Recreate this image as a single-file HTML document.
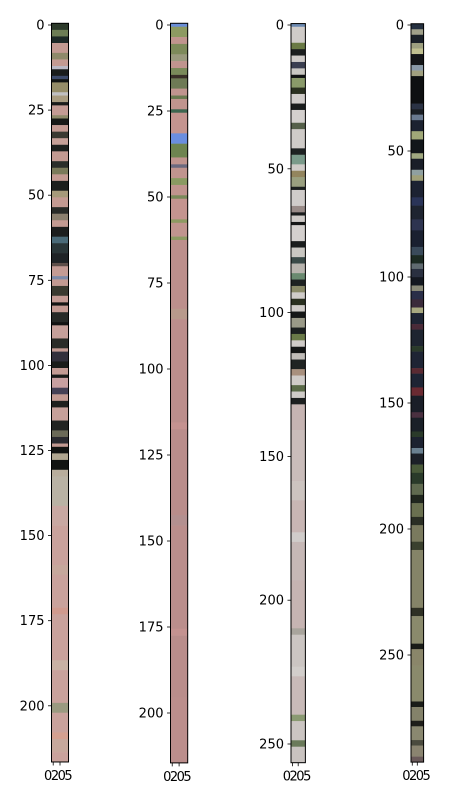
<!DOCTYPE html>
<html><head><meta charset="utf-8"><style>
html,body{margin:0;padding:0;background:#fff;}
svg{display:block;font-family:"DejaVu Sans","Liberation Sans",sans-serif;}
</style></head><body>
<svg id="fig" width="457" height="795" viewBox="0 0 457 795" xmlns="http://www.w3.org/2000/svg"></svg>
<script>
// Row-run data per panel: [rowCount, color]
const runs1 = [[2,"#2c3a2a"],[2,"#6d7d55"],[2,"#1e2a28"],[3,"#c39a92"],[2,"#8f8a6a"],[2,"#c39a92"],[1,"#b9b8c4"],[2,"#1a1d1c"],[1,"#3c4a6a"],[1,"#121514"],[3,"#958d68"],[1,"#c0c0c2"],[2,"#a99c80"],[1,"#1a1c1a"],[3,"#c49b94"],[1,"#8f8a6a"],[2,"#171917"],[2,"#c39a92"],[2,"#3a3a32"],[2,"#c6a098"],[2,"#1e211f"],[3,"#c39a92"],[2,"#2a2e2a"],[2,"#7a7a5a"],[2,"#c39a92"],[3,"#1c1f1d"],[2,"#a69a7a"],[3,"#c39a92"],[2,"#282b28"],[2,"#8a7f6e"],[2,"#c39a92"],[3,"#1c1e1e"],[2,"#4a6a78"],[3,"#2a3638"],[3,"#1f2326"],[1,"#5e4f4a"],[3,"#c49b94"],[1,"#7d8aa8"],[2,"#c39a92"],[3,"#3a3a30"],[2,"#c49b94"],[1,"#141614"],[2,"#c39a92"],[3,"#272a27"],[1,"#121312"],[4,"#c6a09a"],[3,"#2a2c28"],[1,"#c39a92"],[3,"#32303c"],[2,"#1a1c1a"],[2,"#c49b94"],[1,"#191b19"],[3,"#c89fa0"],[2,"#454055"],[2,"#c39a92"],[2,"#1e201e"],[4,"#c6a09a"],[3,"#222422"],[2,"#6b6a58"],[2,"#2a2a30"],[1,"#c39a92"],[2,"#121412"],[2,"#b0a690"],[3,"#121412"],[2,"#b8ad9c"],[9,"#b9b2a4"],[6,"#c8a8a2"],[12,"#c9a29c"],[3,"#c6a89c"],[10,"#c9a29c"],[2,"#d09a8e"],[14,"#c9a29c"],[3,"#c8b2a4"],[10,"#c9a29c"],[3,"#9a9a80"],[6,"#c9a29c"],[2,"#d4a090"],[4,"#c6a89c"],[3,"#c9a29c"]];
const runs2 = [[1,"#6a8ed8"],[3,"#8d9a62"],[2,"#c0948e"],[3,"#7d8a5a"],[2,"#9a9a7e"],[2,"#c0948e"],[2,"#7a8a5a"],[1,"#3a2f28"],[3,"#6e7a55"],[2,"#c0948e"],[1,"#6a7a50"],[3,"#c0948e"],[1,"#3e6650"],[6,"#c4948f"],[3,"#6a8ee0"],[4,"#6e8450"],[2,"#c0948e"],[1,"#6a6a80"],[3,"#c0948e"],[2,"#8a9a62"],[3,"#c0948e"],[1,"#7a8a5a"],[6,"#c4948f"],[1,"#8d9a62"],[4,"#c0948e"],[1,"#8d9a62"],[20,"#bc8f8c"],[3,"#b89a8c"],[30,"#bb8e8c"],[2,"#c49290"],[25,"#b98d8b"],[3,"#b39090"],[30,"#ba8e8c"],[2,"#c49290"],[18,"#b98d8b"],[19,"#bb8e8c"]];
const runs3 = [[1,"#6a88b0"],[5,"#cfcbc8"],[2,"#6a7a45"],[2,"#1c1f1f"],[2,"#cfcbc8"],[2,"#3a3e50"],[2,"#c9c7c2"],[1,"#101212"],[3,"#8a9a6a"],[2,"#2a3020"],[3,"#d0ccca"],[2,"#1a1d1d"],[4,"#d4d0ce"],[2,"#55604a"],[6,"#cfcbc8"],[2,"#1e2222"],[3,"#7a9a8a"],[2,"#cfcbc8"],[2,"#93855e"],[3,"#9aa080"],[1,"#1c2020"],[5,"#d0ccca"],[2,"#998b88"],[1,"#1a1d1d"],[2,"#cfcbc8"],[1,"#151717"],[5,"#d4d0ce"],[2,"#1a1d1d"],[3,"#c9c7c2"],[2,"#3a4a48"],[3,"#b8b4ae"],[2,"#6a8a70"],[2,"#1e2222"],[2,"#8a8a68"],[2,"#d0ccca"],[2,"#2a3020"],[2,"#cfcbc8"],[2,"#151717"],[3,"#9a9a88"],[2,"#1c2020"],[2,"#6a7a48"],[2,"#cfcbc8"],[2,"#141616"],[2,"#c0bcb8"],[3,"#1f2322"],[2,"#a8907e"],[3,"#cfcbc8"],[2,"#5a6a48"],[2,"#cfcbc8"],[2,"#1c1f1f"],[8,"#c6b4b2"],[16,"#c9bcba"],[6,"#ccc4c0"],[10,"#c8b6b4"],[3,"#d0ccca"],[12,"#c6b8b6"],[15,"#c6b4b2"],[2,"#a8a49c"],[10,"#cbc5c2"],[3,"#d2cecb"],[12,"#c8bab8"],[2,"#8a9a72"],[6,"#cbc5c2"],[2,"#6a7a5a"],[5,"#c9c3c0"]];
const runs4 = [[2,"#253040"],[2,"#a0a08a"],[3,"#1a2028"],[2,"#9ea080"],[2,"#c0c090"],[4,"#141618"],[2,"#8a9aa8"],[2,"#a0a080"],[10,"#0e1012"],[2,"#2a3244"],[2,"#1a1e24"],[2,"#6a7a90"],[4,"#1c2230"],[3,"#a0a878"],[5,"#12161a"],[2,"#a0a880"],[4,"#1a1e28"],[2,"#90a0a0"],[2,"#a0a078"],[6,"#1c2232"],[3,"#2a3458"],[5,"#1e2430"],[4,"#2e3450"],[6,"#1a2030"],[3,"#3a4a5a"],[3,"#1c2a22"],[2,"#606a70"],[3,"#2a3040"],[3,"#141820"],[2,"#8a8a78"],[3,"#2a2e48"],[3,"#3a2a3a"],[2,"#a8a880"],[4,"#1e2434"],[2,"#4a2a38"],[6,"#1e2430"],[2,"#2a3a2a"],[6,"#1e2434"],[2,"#5a2a32"],[5,"#1e2434"],[3,"#6a2a32"],[6,"#1a1e28"],[2,"#4a3040"],[5,"#1a2028"],[2,"#2a3a2a"],[4,"#1c2230"],[2,"#6a8090"],[4,"#1c2028"],[3,"#4a5a3a"],[4,"#2a3a2a"],[4,"#606a50"],[3,"#20261e"],[5,"#6a7050"],[3,"#2a2e24"],[6,"#7a7a5e"],[3,"#3a402e"],[8,"#858468"],[13,"#858468"],[3,"#2e3024"],[10,"#8a8a6c"],[2,"#1a1c18"],[6,"#8a866a"],[13,"#8a8a6c"],[2,"#1a1c18"],[5,"#84826a"],[2,"#1e1e1a"],[5,"#8a8870"],[2,"#4a4a3e"],[4,"#8a8470"],[2,"#6a5a5a"]];
// image heights in rows (image size)
const rows1 = 217, rows2 = 215, rows3 = 257, rows4 = 293;
const ticks1 = [0,25,50,75,100,125,150,175,200];
const ticks2 = [0,25,50,75,100,125,150,175,200];
const ticks3 = [0,50,100,150,200,250];
const ticks4 = [0,50,100,150,200,250];
const xTickVals = [0,2];
const xTickText = "0205";

const NS="http://www.w3.org/2000/svg";
const svg=document.getElementById('fig');
function mk(t,a){const e=document.createElementNS(NS,t);for(const k in a)e.setAttribute(k,a[k]);return e;}

function panel(idx,runs,nRows,ticks,left,rowPx,top0){
  const g=mk('g',{});
  
  
  svg.appendChild(g);
  const runSum=runs.reduce((s,r)=>s+r[0],0);
  const k=nRows/runSum;
  const top=top0-rowPx/2;
  const w=5*rowPx;
  const yScale=v=>top+(v+0.5)*rowPx;
  const xScale=c=>left+(c+0.5)*rowPx;
  let r=0;
  runs.forEach(run=>{
    const rect=mk('rect',{x:left,y:top+r*k*rowPx,width:w,height:run[0]*k*rowPx+0.3,fill:run[1]});
    
    
    g.appendChild(rect);
    r+=run[0];
  });
  const frame=mk('rect',{x:left,y:top,width:w,height:nRows*rowPx,fill:'none',stroke:'#000','stroke-width':1});
  
  
  g.appendChild(frame);
  ticks.forEach(t=>{
    const y=yScale(t);
    const ln=mk('line',{x1:left-3.5,x2:left,y1:y,y2:y,stroke:'#000','stroke-width':0.8});
    
    
    g.appendChild(ln);
    const tx=mk('text',{x:left-7,y:y+4.5,'text-anchor':'end','font-size':13,fill:'#000'});
    tx.textContent=String(t);
    
    
    g.appendChild(tx);
  });
  const bottom=top+nRows*rowPx;
  xTickVals.forEach(v=>{
    const x=xScale(v);
    const ln=mk('line',{x1:x,x2:x,y1:bottom,y2:bottom+3.5,stroke:'#000','stroke-width':0.8});
    
    
    g.appendChild(ln);
  });
  const xl=mk('text',{x:(xScale(xTickVals[0])+xScale(xTickVals[1]))/2+1,y:bottom+18,'text-anchor':'middle','font-size':13,'letter-spacing':'-1.5',fill:'#000'});
  xl.textContent=xTickText;
  
  
  g.appendChild(xl);
}
panel(1,runs1,rows1,ticks1,51.5,3.404,25);
panel(2,runs2,rows2,ticks2,170.5,3.44,25);
panel(3,runs3,rows3,ticks3,291,2.876,25);
panel(4,runs4,rows4,ticks4,411,2.52,25);
</script>
</body></html>
